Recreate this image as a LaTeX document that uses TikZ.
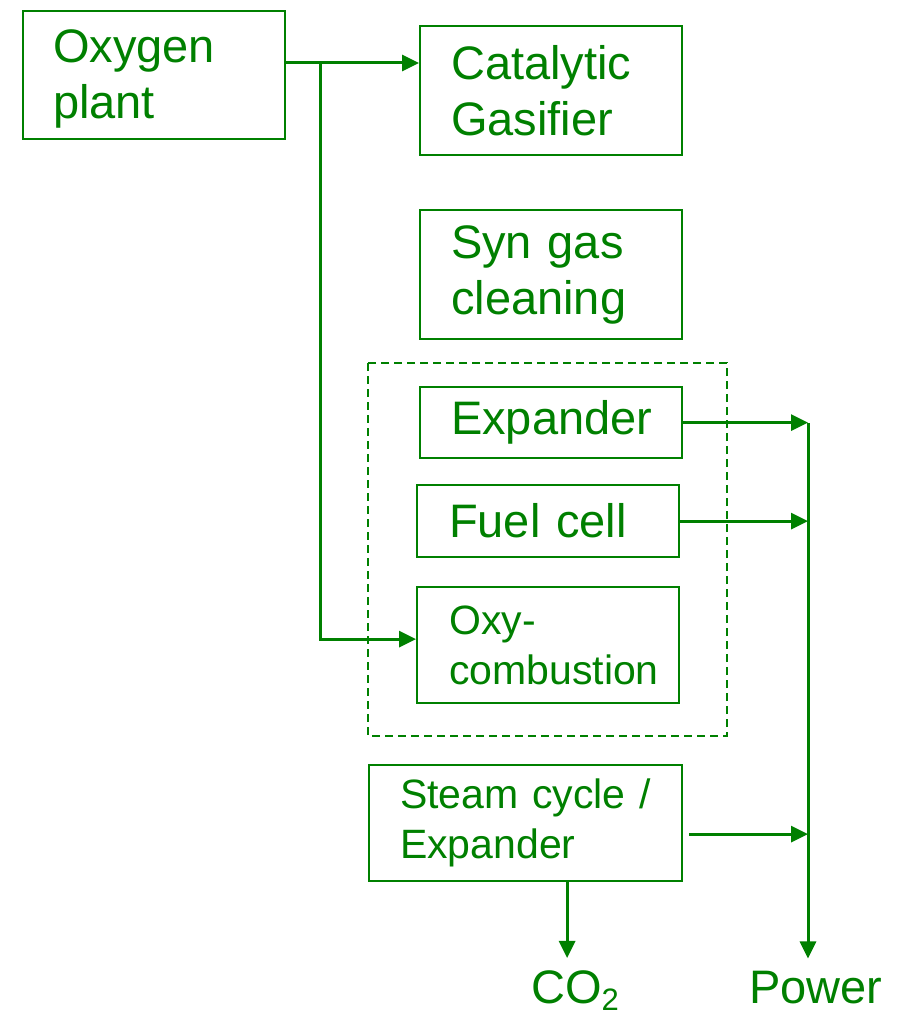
\documentclass[tikz,border=0pt]{standalone}
\usepackage{fontspec}
\setmainfont{Liberation Sans}
\usetikzlibrary{arrows.meta}
\definecolor{plantGreen}{RGB}{0,128,0}
\tikzset{
  unit/.style={rectangle, draw=plantGreen, line width=2.2pt, text=plantGreen, anchor=north west,
    align=left, inner ysep=0pt, font=\fontsize{47}{56}\selectfont},
  smallUnit/.style={unit, font=\fontsize{41}{50}\selectfont},
%  groupBox/.style={draw=plantGreen, dashed},
  groupBox/.style={draw=plantGreen, line width=2.2pt, dash pattern=on 8pt off 5pt},
  product/.style={text=plantGreen, anchor=base, inner sep=12pt, font=\fontsize{47}{56}\selectfont},
  flowArrow/.style={draw=plantGreen, line width=3pt, -{Triangle[length=17pt,width=16pt]}}
}
\begin{document}
\begin{tikzpicture}[x=1pt, y=-1pt]
      \useasboundingbox (0,0) rectangle (902,1016);
      \node [unit, minimum width=262pt, minimum height=128pt, inner xsep=30pt, text width=202pt] (oxy) at (22,10) {\rule{0pt}{40pt}Oxygen\\plant};
      \node [unit, minimum width=262pt, minimum height=129pt, inner xsep=31pt, text width=200pt] (cat) at (419,25) {Catalytic\\Gasifier};
      \node [unit, minimum width=262pt, minimum height=129pt, inner xsep=31pt, text width=200pt] (syn) at (419,209) {Syn gas\\cleaning};
      \draw [groupBox] (368,363) rectangle (727,736);
      \node [unit, minimum width=262pt, minimum height=71pt, inner xsep=31pt, text width=200pt] (exp) at (419,386) {Expander};
      \node [unit, minimum width=262pt, minimum height=72pt, inner xsep=32pt, text width=198pt] (fuel) at (416,484) {Fuel cell};
      \node [smallUnit, minimum width=262pt, minimum height=116pt, inner xsep=32pt, text width=198pt] (oxc) at (416,586) {Oxy-\\combustion};
      \node [smallUnit, minimum width=313pt, minimum height=116pt, inner xsep=31pt, text width=251pt] (stm) at (368,764) {Steam cycle /\\Expander};
      \node [product] (co2) at (575,1003) {CO\raisebox{-7pt}{\fontsize{31}{31}\selectfont 2}};
      \node [product] (pwr) at (816,1003) {Power};
      % oxygen feed
      \coordinate (split) at (320,63);
      \draw [flowArrow] (oxy.east |- split) -- (split -| cat.west);
      \draw [flowArrow] (split) |- ([yshift=6pt]oxc.west);
      % power bus
      \coordinate (busTop) at (808,423);
      \draw [flowArrow] (exp.east) -- (exp.east -| busTop);
      \draw [flowArrow] (fuel.east) -- (fuel.east -| busTop);
      \draw [flowArrow] ([xshift=6pt,yshift=-11pt]stm.east) -- ([yshift=-11pt]stm.east -| busTop);
      \draw [flowArrow] (busTop) -- (busTop |- pwr.north);
      % CO2 out
      \coordinate (co2Out) at ([xshift=41.5pt]stm.south);
      \draw [flowArrow] (co2Out) -- (co2Out |- co2.north);
    \end{tikzpicture}
\end{document}
